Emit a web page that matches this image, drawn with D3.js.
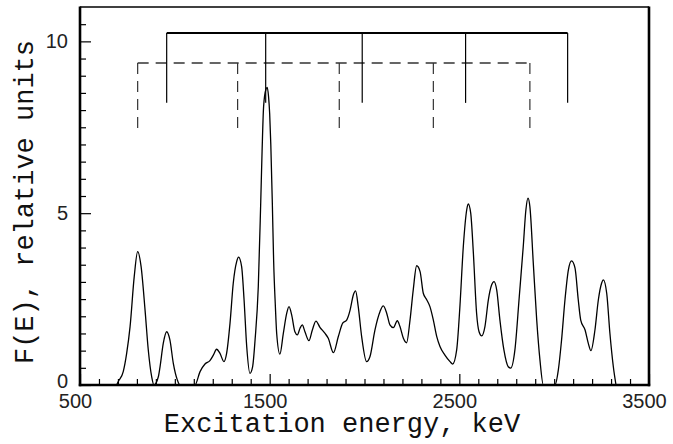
<!DOCTYPE html>
<html>
<head>
<meta charset="utf-8">
<script src="https://cdn.jsdelivr.net/npm/d3@7"></script>
<style>
  html, body { margin: 0; padding: 0; background: #fff; }
  .tick text { font-family: "Liberation Sans", Arial, sans-serif; font-size: 20px; fill: #222; }
  .title { font-family: "Liberation Mono", "DejaVu Sans Mono", monospace; font-size: 27px; fill: #111; }
</style>
</head>
<body>
<div id="chart"></div>
<script>
// strength function F(E): energy (keV), value (relative units)
const energies = [
  693, 702, 728, 746, 764, 786, 804, 822, 843, 860, 878, 890,
  913, 922, 939, 957, 974, 992, 1013, 1027,
  1106, 1133, 1159, 1185, 1203, 1220, 1238, 1259, 1273, 1291, 1308, 1326, 1336, 1352, 1365, 1379, 1396, 1410, 1423, 1440,
  1453, 1460, 1468, 1480, 1487, 1494, 1500, 1506, 1514, 1521, 1530, 1537, 1554,
  1572, 1590, 1602, 1616, 1633, 1646, 1660, 1672, 1686, 1707, 1725, 1744, 1765,
  1792, 1809, 1836, 1862, 1885, 1906, 1924, 1941, 1953, 1967, 1985, 2011, 2029, 2055, 2082, 2099,
  2117, 2134, 2152, 2173, 2187, 2205, 2222, 2240, 2257, 2275, 2293, 2310, 2328, 2345, 2363, 2381,
  2398, 2424, 2451, 2465, 2486, 2503, 2521, 2539, 2547, 2560, 2574, 2591, 2604, 2618, 2635, 2653,
  2670, 2683, 2697, 2714, 2735, 2758, 2771, 2793, 2816, 2837, 2851, 2862, 2872, 2890, 2908, 2925, 2943,
  3004, 3022, 3039, 3057, 3075, 3092, 3110, 3127, 3140, 3163, 3180, 3194, 3215, 3233, 3250, 3259,
  3277, 3294, 3312, 3326
];
const strength = [
  0, 0.10, 0.39, 0.92, 1.70, 3.16, 3.88, 3.45, 2.18, 1.02, 0.24, 0,
  0.24, 0.53, 1.21, 1.55, 1.31, 0.63, 0.15, 0,
  0, 0.39, 0.61, 0.71, 0.87, 1.04, 0.92, 0.68, 0.92, 1.80, 2.96, 3.59, 3.72, 3.45, 2.48, 1.12, 0.34, 0.53, 1.31, 2.86,
  5.34, 6.80, 8.10, 8.60, 8.66, 8.40, 7.90, 7.00, 5.30, 3.60, 2.30, 1.50, 0.90,
  1.50, 2.09, 2.28, 2.04, 1.55, 1.46, 1.65, 1.75, 1.55, 1.29, 1.60, 1.86, 1.68,
  1.50, 1.36, 0.94, 1.41, 1.80, 1.89, 2.18, 2.62, 2.74, 2.28, 1.41, 0.68, 0.83, 1.60, 2.14, 2.30,
  2.09, 1.75, 1.67, 1.87, 1.70, 1.36, 1.23, 1.89, 2.77, 3.47, 3.30, 2.67, 2.48, 2.28, 1.89, 1.41,
  1.12, 0.87, 0.68, 0.61, 1.02, 2.28, 4.03, 5.10, 5.27, 5.00, 3.84, 2.09, 1.55, 1.43, 1.70, 2.48,
  2.91, 3.01, 2.77, 1.89, 1.02, 0.53, 0.49, 1.02, 2.57, 4.03, 5.10, 5.44, 5.19, 3.54, 1.89, 0.73, 0,
  0, 0.44, 1.31, 2.48, 3.35, 3.61, 3.40, 2.48, 1.89, 1.60, 1.21, 1.00, 1.60, 2.48, 2.96, 3.06,
  2.67, 1.50, 0.53, 0
];

// band level energies (keV) shown by the two brackets
const solidLevels = [957, 1479, 1988, 2533, 3071];
const dashedLevels = [804, 1331, 1867, 2363, 2872];
// bracket heights in F(E) units: [bar, foot]
const solidSpan = [10.24, 8.21];
const dashedSpan = [9.37, 7.43];

const xMajor = [500, 1500, 2500, 3500];
const yMajor = [0, 5, 10];

const width = 673, height = 444;
const margin = { left: 80, right: 24, top: 7, bottom: 59 };

const svg = d3.select('#chart').append('svg')
  .attr('width', width)
  .attr('height', height)
  .style('display', 'block');

const x = d3.scaleLinear().domain([500, 3500]).range([margin.left, width - margin.right]);
const y = d3.scaleLinear().domain([0, 11]).range([height - margin.bottom, margin.top]);

const x0 = x.range()[0], x1 = x.range()[1];
const y0 = y.range()[0], y1 = y.range()[1];

// minor ticks
svg.append('g')
  .attr('transform', `translate(0, ${y0})`)
  .call(d3.axisBottom(x).tickValues(d3.range(600, 3500, 100).filter(v => !xMajor.includes(v))).tickSize(-6).tickFormat(''))
  .call(g => g.select('.domain').remove())
  .selectAll('line').attr('stroke', '#000').attr('stroke-width', 1.2);

svg.append('g')
  .attr('transform', `translate(${x0}, 0)`)
  .call(d3.axisLeft(y).tickValues(d3.range(0.5, 11, 0.5).filter(v => !yMajor.includes(v))).tickSize(-6).tickFormat(''))
  .call(g => g.select('.domain').remove())
  .selectAll('line').attr('stroke', '#000').attr('stroke-width', 1.2);

// major ticks + labels
const xAxis = svg.append('g')
  .attr('transform', `translate(0, ${y0})`)
  .call(d3.axisBottom(x).tickValues(xMajor).tickSize(-11).tickPadding(9).tickFormat(d3.format('d')));
xAxis.select('.domain').remove();
xAxis.selectAll('line').attr('stroke', '#000').attr('stroke-width', 1.2);
xAxis.selectAll('text').attr('dx', -5);

const yAxis = svg.append('g')
  .attr('transform', `translate(${x0}, 0)`)
  .call(d3.axisLeft(y).tickValues(yMajor).tickSize(-11).tickPadding(12).tickFormat(d3.format('d')));
yAxis.select('.domain').remove();
yAxis.selectAll('line').attr('stroke', '#000').attr('stroke-width', 1.2);
yAxis.selectAll('text').filter(d => d === 0).attr('dy', '0.1em');

// the spectrum
const line = d3.line()
  .x((d, i) => x(energies[i]))
  .y(d => y(d))
  .curve(d3.curveMonotoneX);

svg.append('path')
  .datum(strength)
  .attr('fill', 'none')
  .attr('stroke', '#000')
  .attr('stroke-width', 1.3)
  .attr('d', line);

// band brackets
function bracket(levels, span, dashed) {
  const g = svg.append('g')
    .attr('fill', 'none')
    .attr('stroke', dashed ? '#333' : '#000');
  if (dashed) g.attr('stroke-dasharray', '11,7');
  g.append('line')
    .attr('x1', x(levels[0])).attr('x2', x(levels[levels.length - 1]))
    .attr('y1', y(span[0])).attr('y2', y(span[0]))
    .attr('stroke-width', dashed ? 1.3 : 2);
  g.selectAll('line.leg')
    .data(levels)
    .join('line')
    .attr('class', 'leg')
    .attr('x1', d => x(d)).attr('x2', d => x(d))
    .attr('y1', y(span[0])).attr('y2', y(span[1]))
    .attr('stroke-width', 1.2);
}
bracket(dashedLevels, dashedSpan, true);
bracket(solidLevels, solidSpan, false);

// frame
svg.append('line').attr('x1', x0).attr('x2', x1).attr('y1', y1).attr('y2', y1)
  .attr('stroke', '#000').attr('stroke-width', 1.3);
svg.append('line').attr('x1', x1).attr('x2', x1).attr('y1', y1 - 0.6).attr('y2', y0 + 1.2)
  .attr('stroke', '#000').attr('stroke-width', 2.6);
svg.append('line').attr('x1', x0).attr('x2', x0).attr('y1', y1 - 0.6).attr('y2', y0 + 1.2)
  .attr('stroke', '#000').attr('stroke-width', 2.6);
svg.append('line').attr('x1', x0 - 1.2).attr('x2', x1 + 1.2).attr('y1', y0).attr('y2', y0)
  .attr('stroke', '#000').attr('stroke-width', 2.6);

// titles
svg.append('text')
  .attr('class', 'title')
  .attr('x', 342)
  .attr('y', 432)
  .attr('text-anchor', 'middle')
  .text('Excitation energy, keV');

svg.append('text')
  .attr('class', 'title')
  .attr('transform', 'translate(33, 202) rotate(-90)')
  .attr('text-anchor', 'middle')
  .text('F(E), relative units');
</script>
</body>
</html>
